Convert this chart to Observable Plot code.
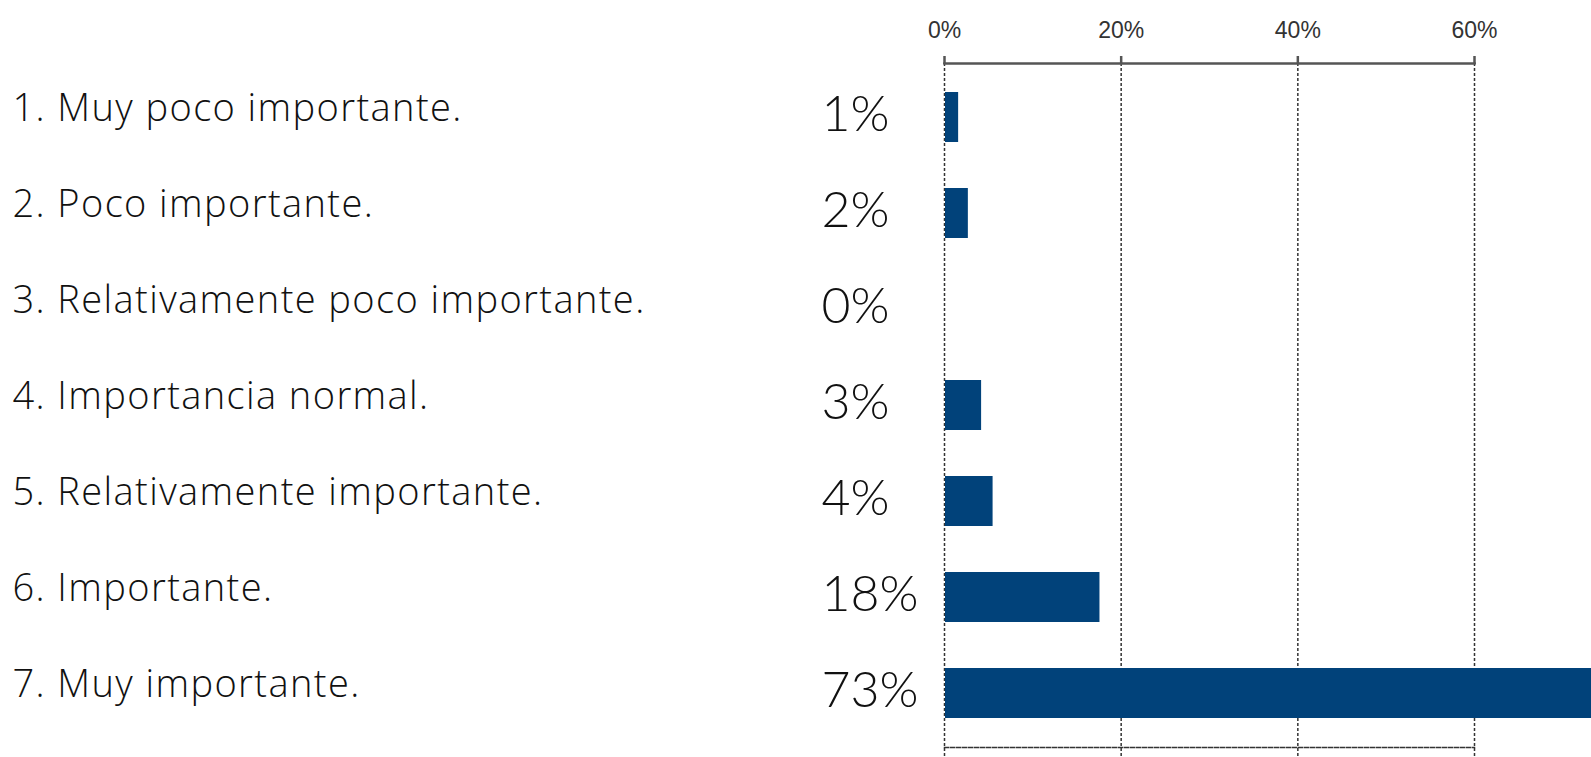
<!DOCTYPE html>
<html>
<head>
<meta charset="utf-8">
<script src="https://cdn.jsdelivr.net/npm/d3@7"></script>
<script src="https://cdn.jsdelivr.net/npm/@observablehq/plot@0.6"></script>
<style>
  html, body { margin: 0; padding: 0; background: #fff; overflow: hidden; }
  #chart svg { display: block; overflow: hidden; }
</style>
</head>
<body>
<div id="chart"></div>
<script>
const categories = [
  "1. Muy poco importante.",
  "2. Poco importante.",
  "3. Relativamente poco importante.",
  "4. Importancia normal.",
  "5. Relativamente importante.",
  "6. Importante.",
  "7. Muy importante."
];
// bar lengths (fraction)
const values = [0.016, 0.027, 0, 0.042, 0.055, 0.176, 0.735];
// printed labels
const valueLabels = ["1%", "2%", "0%", "3%", "4%", "18%", "73%"];
const xTicks = [0, 0.2, 0.4, 0.6];
const xTickLabels = ["0%", "20%", "40%", "60%"];

const data = categories.map((c, i) => ({cat: c, value: values[i], label: valueLabels[i]}));

const chart = Plot.plot({
  width: 1591,
  height: 757,
  marginLeft: 944,
  marginRight: 117,
  marginTop: 63,
  marginBottom: 10,
  style: {fontFamily: "Lato, 'Open Sans', sans-serif", background: "#fff"},
  x: {domain: [0, 0.6], axis: null, label: null},
  y: {domain: categories, paddingInner: 0.475, paddingOuter: 0.272, axis: null, label: null},
  marks: [
    Plot.ruleX(xTicks, {stroke: "#333", strokeWidth: 1.5, strokeDasharray: "3,2", insetBottom: -12}),
    Plot.barX(data, {x: "value", y: "cat", fill: "#01427a", insetLeft: 1}),
    Plot.frame({anchor: "top", stroke: "#555", strokeWidth: 2.5}),
    Plot.frame({anchor: "bottom", stroke: "#333", strokeWidth: 1.5, strokeDasharray: "4,2"}),
    Plot.axisX(xTicks, {
      anchor: "top", label: null, tickSize: 8, tickPadding: 18, stroke: "#555", strokeWidth: 2.5,
      tickFormat: (d) => xTickLabels[xTicks.indexOf(d)],
      fontSize: 23, fill: "#333", fontFamily: "'Liberation Sans', Arial, sans-serif"
    }),
    Plot.text(data, {
      y: "cat", text: "cat", frameAnchor: "left", textAnchor: "start",
      dx: -932, dy: -9, fontSize: 38, fill: "#111",
      fontFamily: "'Open Sans', Lato, sans-serif", fontWeight: 300
    }),
    Plot.text(data, {
      y: "cat", text: "label", frameAnchor: "left", textAnchor: "start",
      dx: -123, dy: -3, fontSize: 50, fill: "#111", fontWeight: 300
    })
  ]
});
// widen the spacing of the category label letters, as in the original
d3.select(chart).selectAll("text")
  .filter(function () { return categories.includes(this.textContent); })
  .style("letter-spacing", "1.4px");
document.getElementById("chart").appendChild(chart);
</script>
</body>
</html>
